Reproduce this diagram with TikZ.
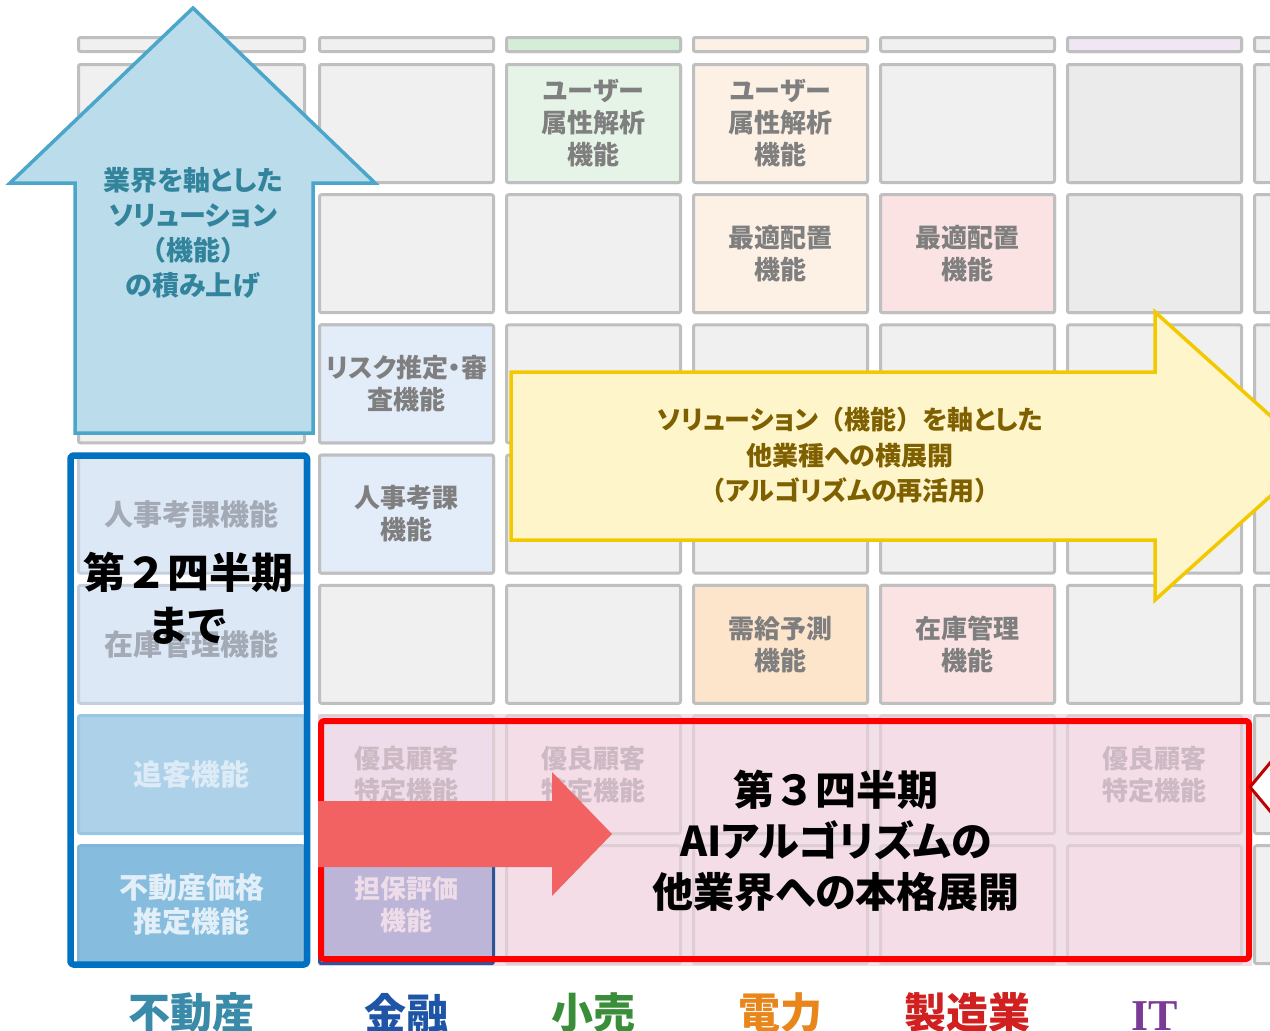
\documentclass[tikz,border=0pt]{standalone}
\usepackage{fontspec}
\setmainfont{Noto Sans CJK JP}[RawFeature=+palt]
\newfontfamily\jpfull{Noto Sans CJK JP}
\newfontfamily\latinserif{Liberation Serif}
\usetikzlibrary{positioning}
\definecolor{cellgray}{HTML}{F0F0F0}
\definecolor{cellline}{HTML}{BFBFBF}
\definecolor{celltext}{HTML}{7F7F7F}
\definecolor{greenlt}{HTML}{E6F4E8}
\definecolor{greenst}{HTML}{D4EDD7}
\definecolor{peachlt}{HTML}{FDF1E6}
\definecolor{peachdk}{HTML}{FDE5CC}
\definecolor{pinklt}{HTML}{FBE3E4}
\definecolor{bluelt}{HTML}{E3ECF9}
\definecolor{lavlt}{HTML}{F0E6F4}
\definecolor{graydk}{HTML}{EBEBEB}
\definecolor{colblue}{HTML}{DDE8F6}
\definecolor{colblueline}{HTML}{C5CEDC}
\definecolor{colbluetext}{HTML}{A3AAB5}
\definecolor{chasecol}{HTML}{AED1EA}
\definecolor{chaseline}{HTML}{9BC6E3}
\definecolor{chasetext}{HTML}{DDEBF6}
\definecolor{pricecol}{HTML}{86BCDD}
\definecolor{priceline}{HTML}{7FB6D9}
\definecolor{pricetext}{HTML}{E3EFF8}
\definecolor{frameblue}{HTML}{0070C0}
\definecolor{uparrow}{HTML}{BBDCEB}
\definecolor{uparrowline}{HTML}{4BA6CA}
\definecolor{uptext}{HTML}{31849B}
\definecolor{yelfill}{HTML}{FFF5CB}
\definecolor{yelline}{HTML}{F2C800}
\definecolor{yeltext}{HTML}{7F6000}
\definecolor{fadefill}{HTML}{F4DDE6}
\definecolor{fadelav}{HTML}{EEDCEA}
\definecolor{fadeline}{HTML}{DFCCD5}
\definecolor{fadetext}{HTML}{CCB9C3}
\definecolor{fadegap}{HTML}{F1E0E8}
\definecolor{collat}{HTML}{BCB5D7}
\definecolor{collatline}{HTML}{2F5597}
\definecolor{collattext}{HTML}{EEDCE8}
\definecolor{redframe}{HTML}{FF0000}
\definecolor{redarrow}{HTML}{F26262}
\definecolor{redtip}{HTML}{C00000}
\definecolor{lbfudo}{HTML}{3A8BA9}
\definecolor{lbkin}{HTML}{1F55A6}
\definecolor{lbkou}{HTML}{3A8E3A}
\definecolor{lbden}{HTML}{E8861C}
\definecolor{lbsei}{HTML}{D02020}
\definecolor{lbit}{HTML}{7A3A96}
\newcommand\fw[1]{{\jpfull #1}}
\begin{document}
\begin{tikzpicture}[x=1pt,y=-1pt,line join=round,
	cell/.style={draw=cellline,line width=3pt,fill=cellgray,rounded corners=2pt,minimum width=174pt,minimum height=118pt,inner sep=0pt,align=center,text=celltext,font=\fontsize{26}{32}\selectfont\bfseries},
	wide/.style={cell,minimum width=226pt,font=\fontsize{29}{34}\selectfont\bfseries},
	fade/.style={cell,fill=fadefill,draw=fadeline,text=fadetext},
	strip/.style={cell,minimum height=14pt},
	big/.style={align=center,font=\fontsize{42}{53}\selectfont\bfseries,text=black},
	lab/.style={font=\fontsize{42}{42}\selectfont\bfseries}]
	\tikzset{declare function={
			cx(\c)=406.5+187*(\c-2);
			ry(\r)=123.5+130.2*(\r-1);
	}}
	\useasboundingbox (0,0) rectangle (1270,1031);
	\clip (0,0) rectangle (1270,1031);
	% grid
	\foreach \c in {2,...,7}{
		\node[strip] (s\c) at ({cx(\c)},44.5) {};
		\foreach \r in {1,...,7}
		\node[cell] (c\c-\r) at ({cx(\c)},{ry(\r)}) {};
	}
	\node[strip,minimum width=226pt] (s1) at (191.5,44.5) {};
	\foreach \r in {1,2,3} \node[wide] (c1-\r) at (191.5,{ry(\r)}) {};
	\foreach \c/\f in {3/greenst,4/peachlt,6/lavlt} \node[strip,fill=\f] (s\c) at ({cx(\c)},44.5) {};
	\foreach \c/\r/\f/\t in {3/1/greenlt/{ユーザー\\属性解析\\機能},4/1/peachlt/{ユーザー\\属性解析\\機能},6/1/graydk/{},
		4/2/peachlt/{最適配置\\機能},5/2/pinklt/{最適配置\\機能},6/2/graydk/{},
		2/3/bluelt/{リスク推定・審\\査機能},2/4/bluelt/{人事考課\\機能},
		4/5/peachdk/{需給予測\\機能},5/5/pinklt/{在庫管理\\機能}}{
		\node[cell,fill=\f] (c\c-\r) at ({cx(\c)},{ry(\r)}) {\t};
	}
	% third quarter area
	\fill[fadegap] (318,714) rectangle (1252,966);
	\foreach \c/\r/\t in {3/6/{優良顧客\\特定機能},4/6/{},5/6/{},6/6/{優良顧客\\特定機能},3/7/{},4/7/{},5/7/{},6/7/{}}{
		\node[fade] (c\c-\r) at ({cx(\c)},{ry(\r)}) {\t};
	}
	\node[fade,fill=fadelav] (c2-6) at ({cx(2)},{ry(6)}) {優良顧客\\特定機能};
	\node[fade,fill=collat,draw=collatline,text=collattext] (c2-7) at ({cx(2)},{ry(7)}) {担保評価\\機能};
	% up arrow
	\draw[uparrowline,fill=uparrow,line width=3.5pt,line join=miter] (75,433)--(75,183)--(10,183)--(193,8)--(375,183)--(313,183)--(313,433)--cycle;
	\node[align=center,text=uptext,font=\fontsize{27}{35}\selectfont\bfseries] (uptxt) at (193,232.5) {業界を軸とした\\ソリューション\\\fw{（}機能\fw{）}\\の積み上げ};
	% first column
	\node[wide,fill=colblue,draw=colblueline,text=colbluetext] (c1-4) at (191.5,{ry(4)}) {人事考課機能};
	\node[wide,fill=colblue,draw=colblueline,text=colbluetext] (c1-5) at (191.5,{ry(5)}) {在庫管理機能};
	\node[wide,fill=chasecol,draw=chaseline,text=chasetext] (c1-6) at (191.5,{ry(6)}) {追客機能};
	\node[wide,fill=pricecol,draw=priceline,text=pricetext] (c1-7) at (191.5,{ry(7)}) {不動産価格\\推定機能};
	\draw[frameblue,line width=6.5pt,rounded corners=3pt] (70.5,455.5) rectangle (307,964.5);
	% side arrow
	\draw[yelline,fill=yelfill,line width=3.5pt,line join=miter] (511,372)--(1155,372)--(1155,312)--(1315,456)--(1155,600)--(1155,540)--(511,540)--cycle;
	\node[align=center,text=yeltext,font=\fontsize{26}{35.5}\selectfont\bfseries] (yeltxt) at (850,455.5) {ソリューション\fw{（}機能\fw{）}を軸とした\\他業種への横展開\\\fw{（}アルゴリズムの再活用\fw{）}};
	\draw[redframe,line width=6pt,rounded corners=3pt] (321,721) rectangle (1249,959);
	\fill[redarrow] (318,801)--(552,801)--(552,772)--(612,834)--(552,896)--(552,867)--(318,867)--cycle;
	\draw[redtip,fill=white,line width=3pt] (1285,745)--(1250,787)--(1285,829);
	\node[big] (q2) at (188,598.5) {第\fw{２}四半期\\まで};
	\node[big,font=\fontsize{41}{51}\selectfont\bfseries] (q3) at (836,841) {第\fw{３}四半期\\AIアルゴリズムの\\他業界への本格展開};
	\foreach \x/\t/\col/\n in {191.5/不動産/lbfudo/fudo,406.5/金融/lbkin/kin,593.5/小売/lbkou/kouri,780.5/電力/lbden/denryoku,967.5/製造業/lbsei/seizo}{
		\node[lab,text=\col] (\n) at (\x,1013) {\t};
	}
	\node[lab,text=lbit,font=\fontsize{44}{44}\selectfont\bfseries\latinserif] (it) at (1154.5,1016) {IT};
\end{tikzpicture}
\end{document}
